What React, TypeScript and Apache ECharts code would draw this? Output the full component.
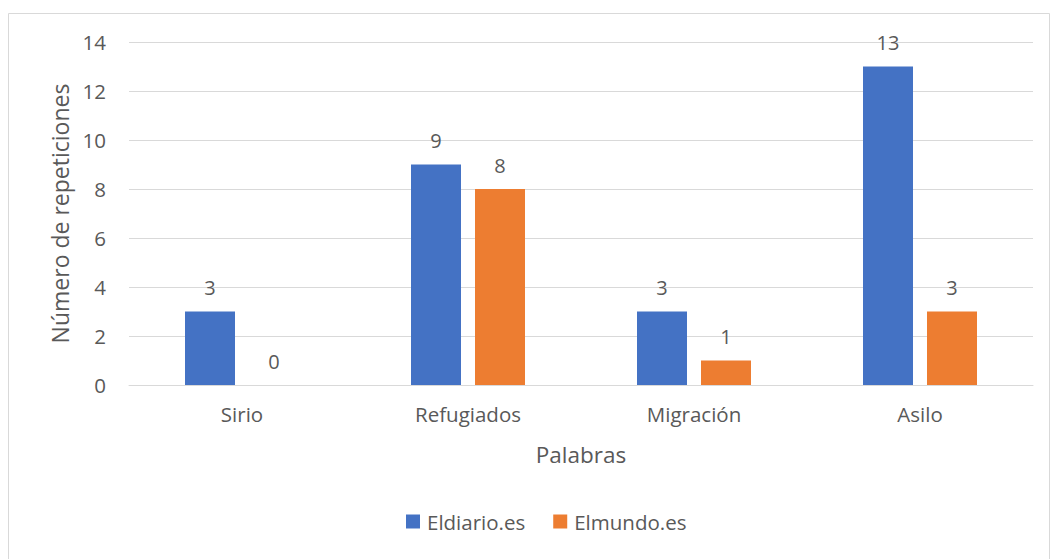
import React, { useEffect, useRef } from "react";
import * as echarts from "echarts";

const categories = ["Sirio", "Refugiados", "Migración", "Asilo"];
const eldiario = [3, 9, 3, 13];
const elmundo = [0, 8, 1, 3];
const seriesNames = ["Eldiario.es", "Elmundo.es"];

export default function App() {
  const ref = useRef<HTMLDivElement>(null);
  useEffect(() => {
    const chart = echarts.init(ref.current!, null, { renderer: "svg" });
    const font = "Open Sans, Calibri, sans-serif";
    const txt = "#595959";
    chart.setOption({
      animation: false,
      textStyle: { fontFamily: font },
      graphic: [
        {
          type: "rect",
          shape: { x: 8.5, y: 13.5, width: 1041, height: 560 },
          style: { fill: "none", stroke: "#d9d9d9", lineWidth: 1 },
        },
      ],
      grid: { left: 129, right: 18, top: 42, bottom: 174, containLabel: false },
      legend: {
        bottom: 22,
        left: 401,
        itemWidth: 14,
        itemHeight: 14,
        itemGap: 28,
        icon: "rect",
        textStyle: { color: txt, fontSize: 20.5, fontFamily: font, padding: [0, 0, 0, 2] },
        data: seriesNames,
      },
      xAxis: {
        type: "category",
        data: categories,
        name: "Palabras",
        nameLocation: "middle",
        nameGap: 58,
        nameTextStyle: { color: txt, fontSize: 22.5, fontFamily: font },
        axisLine: { lineStyle: { color: "#d9d9d9" } },
        axisTick: { show: false },
        axisLabel: { color: txt, fontSize: 20.5, margin: 18, fontFamily: font },
      },
      yAxis: {
        type: "value",
        min: 0,
        max: 14,
        interval: 2,
        name: "Número de repeticiones",
        nameLocation: "middle",
        nameGap: 58,
        nameTextStyle: { color: txt, fontSize: 23, fontFamily: font },
        axisLabel: { color: txt, fontSize: 20.5, margin: 23, fontFamily: font },
        splitLine: { lineStyle: { color: "#d9d9d9" } },
      },
      series: [
        {
          name: seriesNames[0],
          type: "bar",
          data: eldiario,
          itemStyle: { color: "#4472C4" },
          barWidth: 50,
          barGap: "28%",
          label: { show: true, position: "top", distance: 14, color: txt, fontSize: 20, fontFamily: font },
        },
        {
          name: seriesNames[1],
          type: "bar",
          data: elmundo,
          itemStyle: { color: "#ED7D31" },
          barWidth: 50,
          label: { show: true, position: "top", distance: 14, color: txt, fontSize: 20, fontFamily: font },
        },
      ],
    });
    return () => chart.dispose();
  }, []);
  return (
    <div
      ref={ref}
      style={{ position: "absolute", left: 0, top: 0, width: 1051, height: 559, background: "#fff" }}
    />
  );
}
